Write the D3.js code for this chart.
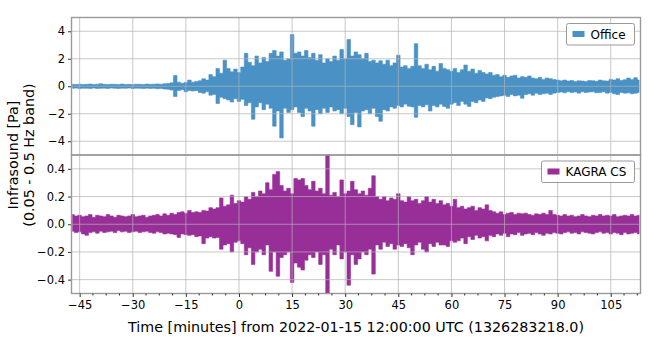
<!DOCTYPE html>
<html><head><meta charset="utf-8">
<script src="https://cdn.jsdelivr.net/npm/d3@7"></script>
<style>body{margin:0;background:#fff}svg{display:block}text{font-family:"DejaVu Sans",sans-serif}</style>
</head><body><svg id="c" width="654" height="349"></svg>
<script>
// time samples: one per minute, starting at -47 min
const tStart = -47;
const officeUpper = [0.14,0.12,0.15,0.13,0.14,0.16,0.13,0.15,0.18,0.14,0.13,0.15,0.14,0.12,0.16,0.13,0.14,0.12,0.15,0.14,0.13,0.16,0.14,0.15,0.17,0.15,0.18,0.2,0.25,
0.78,0.3,0.22,0.28,0.45,0.3,0.35,0.4,0.55,0.45,0.85,0.7,1.3,0.95,1.9,1.3,1.05,1.25,1.0,1.4,2.4,1.75,1.5,2.2,1.7,2.1,1.8,2.4,2.6,2.2,2.5,1.9,2.0,3.76,2.4,2.5,2.2,2.6,2.1,2.4,1.9,2.3,1.7,2.0,1.8,2.2,1.9,2.67,2.0,3.4,2.2,2.5,2.3,2.0,2.4,1.8,1.9,1.7,1.85,1.6,1.9,1.5,1.7,2.26,1.4,1.5,1.3,1.45,3.1,1.5,1.3,1.6,1.2,1.45,1.1,1.66,1.3,1.2,1.1,1.3,1.0,1.2,1.54,1.1,1.25,0.95,1.15,1.0,0.9,1.0,0.8,0.85,0.7,0.8,0.65,0.75,0.8,0.6,0.7,0.65,0.75,0.6,0.55,0.65,0.5,0.6,0.55,0.5,0.45,0.4,0.45,0.38,0.42,0.35,0.4,0.38,0.35,0.42,0.4,0.36,0.45,0.4,0.38,0.5,0.45,0.55,0.42,0.48,0.6,0.5,0.62,0.45];
const officeLower = [-0.15,-0.13,-0.16,-0.14,-0.15,-0.17,-0.13,-0.16,-0.15,-0.14,-0.16,-0.13,-0.15,-0.17,-0.14,-0.15,-0.13,-0.16,-0.14,-0.15,-0.17,-0.14,-0.16,-0.15,-0.18,-0.16,-0.2,-0.22,-0.28,
-0.75,-0.3,-0.25,-0.4,-0.3,-0.35,-0.32,-0.45,-0.5,-0.4,-0.65,-0.6,-1.25,-0.8,-0.9,-1.0,-1.15,-0.9,-1.1,-0.95,-1.4,-1.2,-2.4,-1.5,-1.2,-1.7,-1.3,-1.6,-2.9,-1.8,-3.76,-1.6,-1.9,-1.7,-1.5,-1.9,-2.2,-1.6,-1.8,-2.9,-1.7,-2.0,-1.6,-1.9,-1.5,-1.8,-1.7,-2.0,-1.6,-2.2,-2.8,-1.9,-2.96,-1.8,-1.7,-2.0,-1.6,-2.2,-2.55,-1.7,-1.8,-1.5,-1.6,-1.4,-1.5,-1.3,-1.45,-1.5,-2.26,-1.4,-1.5,-1.35,-1.8,-1.4,-1.5,-1.3,-1.47,-1.6,-1.3,-1.2,-1.4,-1.1,-1.3,-1.47,-1.1,-1.2,-1.0,-1.1,-0.85,-0.9,-0.8,-0.75,-0.7,-0.65,-0.75,-0.6,-0.7,-0.65,-0.87,-0.6,-0.55,-0.65,-0.5,-0.6,-0.55,-0.5,-0.6,-0.5,-0.45,-0.42,-0.48,-0.4,-0.45,-0.42,-0.5,-0.4,-0.45,-0.42,-0.4,-0.48,-0.45,-0.4,-0.5,-0.45,-0.55,-0.6,-0.45,-0.5,-0.48,-0.55,-0.5,-0.45];
const kagraUpper = [0.07,0.06,0.065,0.055,0.06,0.07,0.05,0.065,0.06,0.055,0.07,0.06,0.05,0.065,0.06,0.055,0.06,0.07,0.055,0.06,0.065,0.05,0.06,0.065,0.07,0.06,0.075,
0.065,0.08,0.07,0.085,0.09,0.08,0.1,0.085,0.09,0.085,0.1,0.095,0.12,0.11,0.12,0.19,0.13,0.14,0.21,0.15,0.17,0.16,0.2,0.18,0.23,0.2,0.24,0.22,0.3,0.25,0.36,0.38,0.28,0.24,0.26,0.22,0.33,0.32,0.33,0.28,0.25,0.31,0.24,0.26,0.22,0.5,0.21,0.23,0.2,0.32,0.22,0.24,0.31,0.25,0.22,0.24,0.21,0.26,0.35,0.2,0.18,0.2,0.17,0.19,0.18,0.22,0.17,0.16,0.2,0.17,0.18,0.15,0.17,0.2,0.16,0.18,0.15,0.17,0.14,0.15,0.13,0.18,0.12,0.13,0.11,0.12,0.13,0.1,0.12,0.11,0.14,0.1,0.09,0.08,0.09,0.07,0.08,0.085,0.07,0.08,0.075,0.08,0.07,0.065,0.075,0.07,0.08,0.07,0.1,0.07,0.065,0.06,0.07,0.06,0.065,0.055,0.06,0.07,0.06,0.055,0.065,0.06,0.07,0.06,0.065,0.06,0.07,0.055,0.06,0.065,0.06,0.07,0.06,0.065];
const kagraLower = [-0.05,-0.06,-0.055,-0.07,-0.08,-0.06,-0.055,-0.065,-0.05,-0.06,-0.055,-0.05,-0.06,-0.045,-0.055,-0.05,-0.06,-0.055,-0.05,-0.06,-0.055,-0.05,-0.06,-0.065,-0.055,-0.06,-0.07,
-0.065,-0.07,-0.075,-0.095,-0.07,-0.075,-0.08,-0.075,-0.09,-0.085,-0.14,-0.1,-0.09,-0.1,-0.095,-0.18,-0.15,-0.14,-0.2,-0.13,-0.12,-0.14,-0.22,-0.17,-0.29,-0.2,-0.18,-0.22,-0.15,-0.34,-0.2,-0.375,-0.24,-0.22,-0.2,-0.42,-0.28,-0.31,-0.33,-0.26,-0.22,-0.24,-0.2,-0.29,-0.22,-0.5,-0.18,-0.22,-0.15,-0.25,-0.2,-0.44,-0.22,-0.29,-0.25,-0.2,-0.22,-0.18,-0.36,-0.15,-0.18,-0.13,-0.16,-0.14,-0.18,-0.15,-0.16,-0.14,-0.17,-0.22,-0.15,-0.13,-0.18,-0.2,-0.14,-0.16,-0.13,-0.15,-0.15,-0.16,-0.12,-0.13,-0.12,-0.1,-0.14,-0.09,-0.11,-0.08,-0.1,-0.09,-0.12,-0.08,-0.09,-0.07,-0.08,-0.065,-0.09,-0.07,-0.075,-0.06,-0.08,-0.07,-0.065,-0.075,-0.06,-0.07,-0.08,-0.065,-0.07,-0.06,-0.065,-0.07,-0.06,-0.055,-0.065,-0.06,-0.07,-0.055,-0.06,-0.065,-0.07,-0.06,-0.055,-0.065,-0.06,-0.07,-0.06,-0.065,-0.075,-0.06,-0.07,-0.065,-0.06,-0.07];
const xTicks = [-45,-30,-15,0,15,30,45,60,75,90,105];
const topTicks = [-4,-2,0,2,4];
const botTicks = [-0.4,-0.2,0.0,0.2,0.4];
const seriesNames = ["Office","KAGRA CS"];
const colors = ["#4a92c6","#982f98"];

const svg = d3.select("#c");
const L = 71.5, R = 640.5, T = 17.5, M = 155, B = 293.5;
const x = d3.scaleLinear().domain([-47.3,113.4]).range([L,R]);
const yTop = d3.scaleLinear().domain([-5,5]).range([M,T]);
const yBot = d3.scaleLinear().domain([-0.5,0.5]).range([B,M]);

svg.append("clipPath").attr("id","cpT").append("rect").attr("x",L).attr("y",T).attr("width",R-L).attr("height",M-T);
svg.append("clipPath").attr("id","cpB").append("rect").attr("x",L).attr("y",M).attr("width",R-L).attr("height",B-M);

function panel(y, upper, lower, ticks, fmt, clip, color, name, legendW){
  const g = svg.append("g");
  const data = upper.map((u,i)=>({t:tStart+i,u:u,l:lower[i]}));
  const area = d3.area().curve(d3.curveStep).x(d=>x(d.t)).y0(d=>y(d.l)).y1(d=>y(d.u));
  g.append("path").datum(data).attr("d",area).attr("fill",color).attr("stroke",color).attr("stroke-width",0.6).attr("clip-path",`url(#${clip})`);
  // grid
  const gg = g.append("g").attr("stroke","#b0b0b0").attr("stroke-opacity",0.7).attr("stroke-width",1);
  xTicks.forEach(v=>gg.append("line").attr("x1",x(v)).attr("x2",x(v)).attr("y1",y.range()[1]).attr("y2",y.range()[0]));
  ticks.forEach(v=>gg.append("line").attr("x1",L).attr("x2",R).attr("y1",y(v)).attr("y2",y(v)));
  // y axis
  const ax = g.append("g").attr("transform",`translate(${L},0)`).call(d3.axisLeft(y).tickValues(ticks).tickFormat(fmt).tickSize(3.5).tickPadding(3));
  ax.select(".domain").remove();
  ax.selectAll("text").attr("font-size",11.5).attr("fill","#000").attr("font-family","DejaVu Sans");
  ax.selectAll("line").attr("stroke","#333");
  // frame
  g.append("rect").attr("x",L).attr("y",y.range()[1]).attr("width",R-L).attr("height",y.range()[0]-y.range()[1]).attr("fill","none").attr("stroke","#999").attr("stroke-width",1.4);
  // legend
  const ly = y.range()[1]+6;
  const lg = g.append("g");
  lg.append("rect").attr("x",R-6-legendW).attr("y",ly).attr("width",legendW).attr("height",21.5).attr("rx",2).attr("fill","#fff").attr("fill-opacity",0.85).attr("stroke","#999").attr("stroke-width",1);
  lg.append("rect").attr("x",R-6-legendW+6).attr("y",ly+7.5).attr("width",12).attr("height",6).attr("fill",color);
  lg.append("text").attr("x",R-6-legendW+24).attr("y",ly+15).attr("font-size",12).text(name);
}
const minus = s => s.replace("-","\u2212");
panel(yTop, officeUpper, officeLower, topTicks, d=>minus(d3.format("d")(d)), "cpT", colors[0], seriesNames[0], 68);
panel(yBot, kagraUpper, kagraLower, botTicks, d=>minus(d3.format(".1f")(d)), "cpB", colors[1], seriesNames[1], 93);

// x axis
const xa = svg.append("g").attr("transform",`translate(0,${B})`).call(d3.axisBottom(x).tickValues(xTicks).tickFormat(d3.format("d")).tickSize(3.5).tickPadding(4));
xa.select(".domain").remove();
xa.selectAll("text").attr("font-size",11.5).attr("fill","#000").attr("font-family","DejaVu Sans");
xa.selectAll("line").attr("stroke","#333");
const minor = d3.range(-45-3.75*2, 114, 3.75).filter(v=>v>-47.3 && v<113.4 && xTicks.indexOf(v)<0);
svg.append("g").selectAll("line").data(minor).join("line").attr("x1",d=>x(d)).attr("x2",d=>x(d)).attr("y1",B).attr("y2",B+2).attr("stroke","#333");

svg.append("text").attr("x",356).attr("y",332).attr("text-anchor","middle").attr("font-size",14.3).text("Time [minutes] from 2022-01-15 12:00:00 UTC (1326283218.0)");
const yl = svg.append("text").attr("transform",`translate(0,${M}) rotate(-90)`).attr("text-anchor","middle").attr("font-size",14.3);
yl.append("tspan").attr("x",0).attr("y",18).text("Infrasound [Pa]");
yl.append("tspan").attr("x",0).attr("y",34).text("(0.05 - 0.5 Hz band)");
</script></body></html>
